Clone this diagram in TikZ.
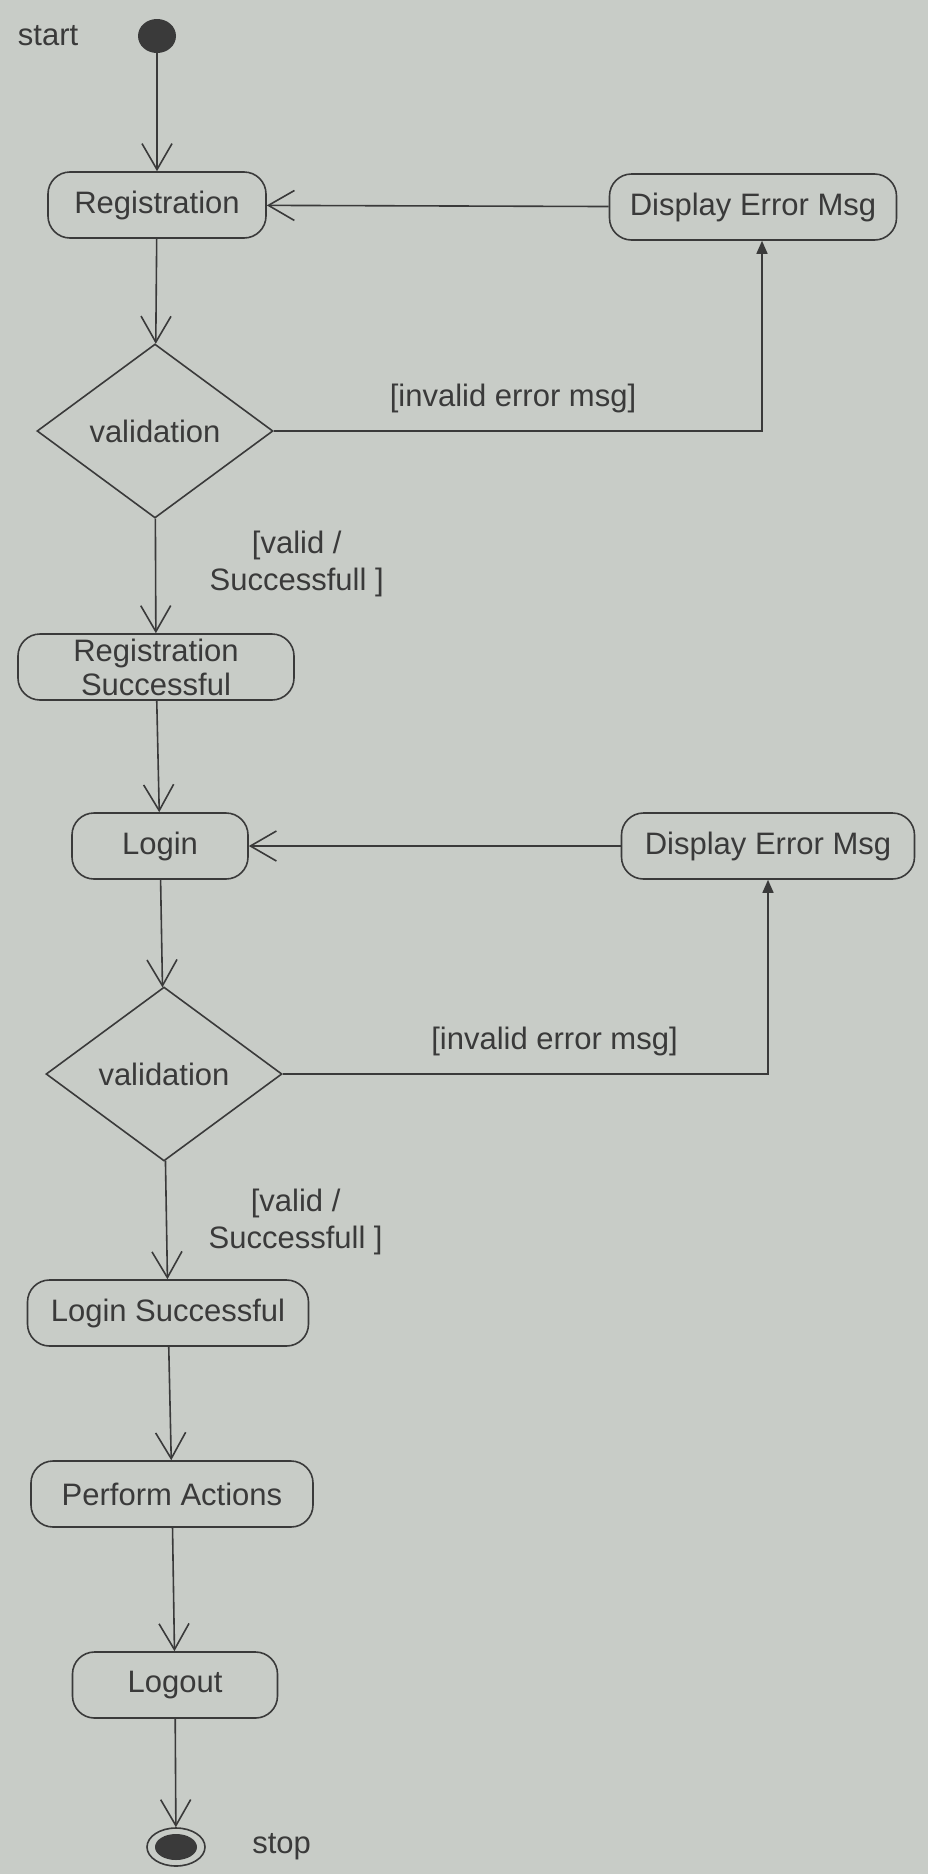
\documentclass[tikz,border=0pt]{standalone}
\usepackage{fontspec}
\setmainfont{Liberation Sans}
\usetikzlibrary{shapes.geometric,arrows.meta,positioning}
\definecolor{paper}{RGB}{200,204,199}
\definecolor{ink}{RGB}{58,58,58}
\tikzset{
	act/.style={draw=ink, rounded corners=22pt, line width=1.6pt, minimum height=66pt, align=center, text=ink},
	decide/.style={draw=ink, diamond, aspect=1.36, line width=1.6pt, minimum width=236pt, minimum height=174pt, text=ink},
	flow/.style={draw=ink, line width=1.6pt, -{Straight Barb[length=26pt,width=30pt]}},
	back/.style={draw=ink, line width=1.6pt, -{Triangle[length=13pt,width=11pt]}},
	guard/.style={text=ink, align=center},
}
\begin{document}
\begin{tikzpicture}[x=1pt, y=-1pt, font=\fontsize{31}{37}\selectfont]
		\fill[paper] (0,0) rectangle (928,1874);
		\useasboundingbox (0,0) rectangle (928,1874);

		\node[ellipse, fill=ink, minimum width=38pt, minimum height=34pt, inner sep=0pt] (start) at (157,36) {};
		\node[guard, left=56pt of start] (startlbl) {start};

		\node[act, minimum width=218pt] (reg) at (157,205) {Registration};
		\node[act, minimum width=287pt] (err1) at (753,207) {Display Error Msg};
		\node[decide] (val1) at (155,431) {validation};
		\node[act, minimum width=276pt, inner sep=0pt, font=\fontsize{31}{34}\selectfont] (regok) at (156,667) {Registration\\Successful};

		\node[act, minimum width=176pt] (login) at (160,846) {Login};
		\node[act, minimum width=293pt] (err2) at (768,846) {Display Error Msg};
		\node[decide] (val2) at (164,1074) {validation};
		\node[act, minimum width=281pt] (loginok) at (168,1313) {Login Successful};
		\node[act, minimum width=282pt] (perform) at (172,1494) {Perform Actions};
		\node[act, minimum width=205pt] (logout) at (175,1685) {Logout};

		\node[ellipse, draw=ink, line width=1.6pt, minimum width=58pt, minimum height=38pt, inner sep=0pt] (stop) at (176,1847) {};
		\node[ellipse, fill=ink, minimum width=42pt, minimum height=26pt, inner sep=0pt] (stopdot) at (stop) {};
		\node[guard, right=43pt of stop] (stoplbl) {stop};

		\foreach \a/\b in {start/reg, reg/val1, regok/login, login/val2, loginok/perform, perform/logout, logout/stop}
			\draw[flow] (\a) -- (\b);

		\draw[flow] (err1) -- (reg);
		\draw[flow] (err2) -- (login);

		\draw[back] (val1.east) -| node[guard, above=14pt, pos=0.245] (inv1) {[invalid error msg]} ([xshift=9pt]err1.south);
		\draw[back] (val2.east) -| node[guard, above=14pt, pos=0.28] (inv2) {[invalid error msg]} (err2.south);

		\draw[flow] (val1) -- node[guard, right=50pt, pos=0.4] (ok1) {[valid /\\Successfull ]} (regok);
		\draw[flow] (val2) -- node[guard, right=38pt, pos=0.52] (ok2) {[valid /\\Successfull ]} (loginok);
	\end{tikzpicture}
\end{document}
